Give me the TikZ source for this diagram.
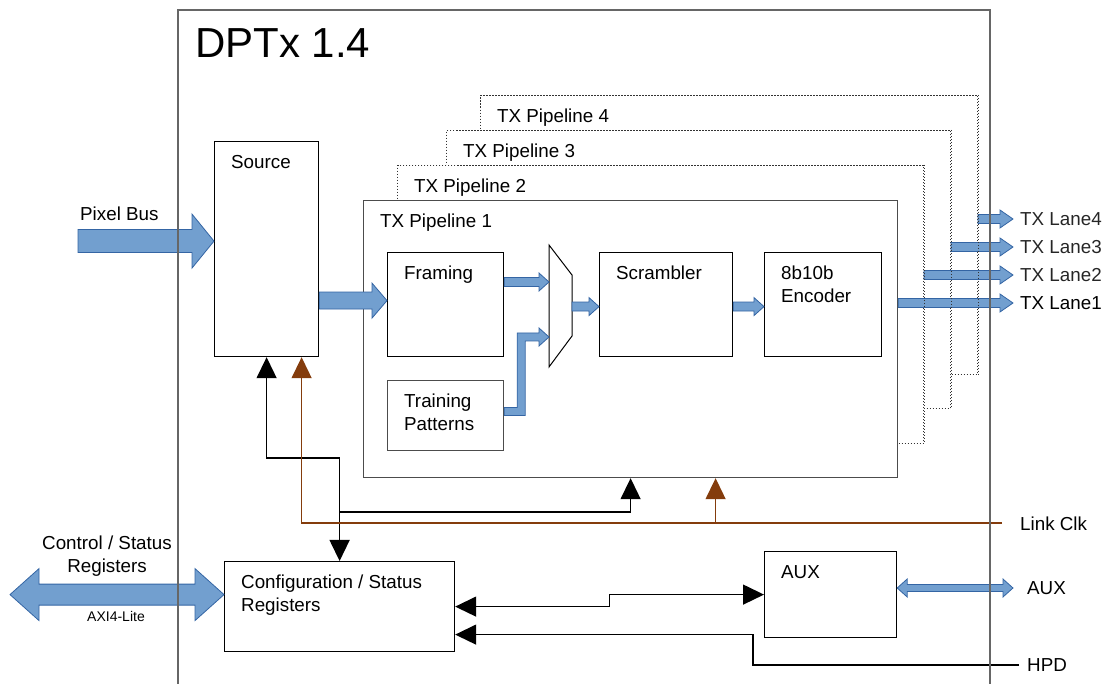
\documentclass[tikz,border=0pt]{standalone}
\usepackage{fontspec}
\setmainfont{Liberation Sans}
\usetikzlibrary{arrows.meta,positioning,calc}

\definecolor{busfill}{HTML}{729FCF}
\definecolor{busline}{HTML}{3465A4}
\definecolor{clkbrown}{RGB}{132,60,12}

\newcommand{\lblfont}{\fontsize{18.8}{23}\selectfont}
\newcommand{\titlefont}{\fontsize{42}{50}\selectfont}
\newcommand{\axifont}{\fontsize{14}{17}\selectfont}

% wide bus arrow: start (x only), tip, half body, half head, head length
\newcommand{\busarrow}[5]{%
  \filldraw[bus] let \p1=#1, \p2=#2 in
    (\x1,\y2+#3) -- (\x2-#5,\y2+#3) -- (\x2-#5,\y2+#4) -- (\x2,\y2)
    -- (\x2-#5,\y2-#4) -- (\x2-#5,\y2-#3) -- (\x1,\y2-#3) -- cycle;}
% same, with a head on both ends
\newcommand{\busdarrow}[5]{%
  \filldraw[bus] let \p1=#1, \p2=#2 in
    (\x1,\y2) -- (\x1+#5,\y2+#4) -- (\x1+#5,\y2+#3) -- (\x2-#5,\y2+#3)
    -- (\x2-#5,\y2+#4) -- (\x2,\y2) -- (\x2-#5,\y2-#4) -- (\x2-#5,\y2-#3)
    -- (\x1+#5,\y2-#3) -- (\x1+#5,\y2-#4) -- cycle;}

\begin{document}
\begin{tikzpicture}[
    x=1pt, y=-1pt,
    >={Triangle[length=21pt,width=20pt]},
    block/.style={rectangle, draw=black, fill=white, line width=1.2pt, anchor=north west, inner sep=0pt},
    ghost/.style={rectangle, draw=black!80, fill=white, line width=1pt, dash pattern=on 1.5pt off 1.5pt, anchor=north west, inner sep=0pt},
    ghostline/.style={draw=black!80, line width=1pt, dash pattern=on 1.5pt off 1.5pt},
    boxlbl/.style={anchor=north west, xshift=17, yshift=-14, inner sep=0pt, font=\lblfont, align=left},
    txt/.style={inner sep=0pt, font=\lblfont},
    bus/.style={fill=busfill, draw=busline, line width=0.8pt},
    mux/.style={draw=black, fill=white, line width=1pt},
    sig/.style={draw=black, line width=1.4pt},
    clk/.style={draw=clkbrown, line width=1.4pt},
    frame/.style={draw=black!60, line width=1.2pt}
    ]
    \useasboundingbox (0,0) rectangle (1104,684);

    % TX pipelines, back to front
    \node[ghost, minimum width=497, minimum height=279, label={[boxlbl]north west:TX Pipeline 4}] (pipe4) at (480,95) {};
    \node[ghost, minimum width=504, minimum height=278, label={[boxlbl]north west:TX Pipeline 3}] (pipe3) at (446,130) {};
    \node[ghost, minimum width=526, minimum height=278, label={[boxlbl]north west:TX Pipeline 2}] (pipe2) at (397,165) {};
    \node[block, draw=black!70, minimum width=534, minimum height=277, label={[boxlbl]north west:TX Pipeline 1}] (pipe1) at (363,200) {};

    % Blocks
    \node[block, minimum width=104, minimum height=215, label={[boxlbl]north west:Source}] (source) at (214,141) {};
    \node[block, minimum width=116, minimum height=104, label={[boxlbl]north west:Framing}] (framing) at (387,252) {};
    \node[block, draw=black!70, minimum width=116, minimum height=70, label={[boxlbl]north west:{Training\\Patterns}}] (train) at (387,380) {};
    \node[block, minimum width=133, minimum height=104, label={[boxlbl]north west:Scrambler}] (scr) at (599,252) {};
    \node[block, minimum width=117, minimum height=104, label={[boxlbl]north west:{8b10b\\Encoder}}] (enc) at (764,252) {};
    \node[block, minimum width=230, minimum height=90, label={[boxlbl]north west:{Configuration / Status\\Registers}}] (cfg) at (224,561) {};
    \node[block, minimum width=132, minimum height=86, label={[boxlbl]north west:AUX}] (aux) at (764,551) {};

    % Mux
    \coordinate (muxin1) at (549,282);
    \coordinate (muxin2) at (549,337);
    \coordinate (muxout) at (572,306);
    \draw[mux] (549,245) -- (572,275) -- (572,336) -- (549,367) -- cycle;

    % Outside labels
    \node[txt, font=\titlefont, anchor=west] (title) at (195,43) {DPTx 1.4};
    \node[txt, anchor=west] (pixbus) at (80,214) {Pixel Bus};
    \node[txt, align=center] (csr) at (107,556) {Control / Status\\Registers};
    \node[txt, font=\axifont] (axi) at (116,616) {AXI4-Lite};
    \node[txt, anchor=west, text=black!85] (lane4) at (1020,219) {TX Lane4};
    \node[txt, anchor=west, text=black!85] (lane3) at (1020,247) {TX Lane3};
    \node[txt, anchor=west, text=black!85] (lane2) at (1020,275) {TX Lane2};
    \node[txt, anchor=west] (lane1) at (1020,303) {TX Lane1};
    \node[txt, anchor=west] (linkclk) at (1020,524) {Link Clk};
    \node[txt, anchor=west] (auxout) at (1027,588) {AUX};
    \node[txt, anchor=west] (hpd) at (1027,665) {HPD};

    % Data buses
    \coordinate (pixin) at (78,240);
    \coordinate (axiin) at (10,594);
    \busarrow{(pixin)}{([yshift=8]source.west)}{11.5}{27}{22}
    \busarrow{(source.east)}{([yshift=4]framing.west)}{8.5}{17.5}{15}
    \busarrow{(framing.east)}{(muxin1)}{4.5}{9}{10}
    \filldraw[bus] let \p1=([yshift=4]train.east), \p2=(muxin2) in
        (\x1,\y1-4) -- (\x1+21,\y1-4) -- (\x1+21,\y2-4) -- (\x2-10,\y2-4) -- (\x2-10,\y2-9)
        -- (\x2,\y2) -- (\x2-10,\y2+9) -- (\x2-10,\y2+4) -- (\x1+13,\y2+4) -- (\x1+13,\y1+4)
        -- (\x1,\y1+4) -- cycle;
    \busarrow{(muxout)}{([yshift=-2]scr.west)}{4.5}{9}{10}
    \busarrow{(scr.east)}{([yshift=-2]enc.west)}{4.5}{9}{10}
    \busarrow{(pipe4.east)}{([xshift=-7]lane4.west)}{4.5}{9}{13}
    \busarrow{(pipe3.east)}{([xshift=-7]lane3.west)}{4.5}{9}{13}
    \busarrow{(pipe2.east)}{([xshift=-7]lane2.west)}{4.5}{9}{13}
    \busarrow{(pipe1.east)}{([xshift=-7]lane1.west)}{4.5}{9}{13}
    \busdarrow{(aux.east)}{([xshift=-14]auxout.west)}{3.5}{9}{10}
    \busdarrow{(axiin)}{([yshift=12]cfg.west)}{10.5}{26}{29}

    % dotted right edges stay on top of the lanes
    \foreach \p in {pipe4,pipe3,pipe2}
        \draw[ghostline] (\p.north east) -- (\p.south east);

    % Control and clock lines
    \draw[sig, <->] (source.south) |- ([yshift=103]cfg.north) -- (cfg.north);
    \draw[sig, ->] ([yshift=49]cfg.north) -| (pipe1.south);
    \coordinate (clkin) at (1002,523);
    \coordinate (clkup) at ([xshift=85]pipe1.south);
    \draw[clk, ->] (clkin) -| ([xshift=35]source.south);
    \draw[clk, ->] (clkup |- clkin) -- (clkup);
    \draw[sig, <->] (cfg.east) -| ($(cfg.east)!.5!(aux.west)$) |- (aux.west);
    \coordinate (hpdin) at (1019,665);
    \draw[sig, ->] (hpdin) -| ([xshift=-11]aux.south west) |- ([yshift=-28]cfg.east);

    % DPTx frame, open at the bottom
    \draw[frame] (178,684) -- (178,10) -- (990,10) -- (990,684);

\end{tikzpicture}
\end{document}
